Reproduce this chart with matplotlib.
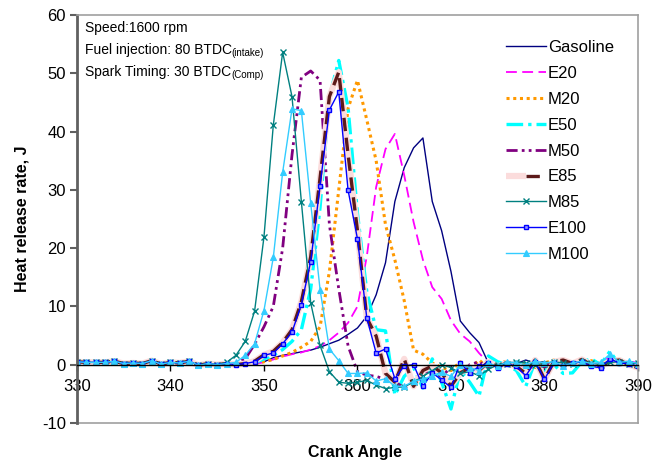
import numpy as np
import matplotlib
matplotlib.use("Agg")
import matplotlib.pyplot as plt
from matplotlib.legend_handler import HandlerTuple

plt.rcParams['font.family'] = ['Liberation Sans', 'DejaVu Sans']
plt.rcParams['axes.unicode_minus'] = False

# crank angle, one point per degree
angle = np.arange(330, 391)

# heat release rate (J), 330..390 deg
base = [0.5, 0.4, 0.4, 0.4, 0.6, 0.2, 0.3, 0.2, 0.7, 0.1, 0.4, 0.3, 0.6, -0.1, 0.2, 0.0]  # 330..345

gasoline = base + [0.2, 0.0, 0.0, 0.2, 0.5, 1.2, 1.6, 1.9, 2.2, 2.5, 3.0, 3.6, 4.2, 5.2, 6.3, 8.3,
                   12.0, 17.5, 28.0, 33.8, 37.2, 38.9, 28.0, 23.0, 16.0, 7.5, 5.5, 3.8, 0.3, -0.2,
                   0.5, 0.2, 0.8, 0.3, 0.5, 0.2, 0.6, 0.3, 0.8, 0.4, 0.2, 0.9, 0.3, 0.5, 0.2]
e20 = base + [0.2, 0.0, 0.0, 0.2, 0.4, 0.9, 1.4, 1.8, 2.1, 2.6, 3.2, 4.2, 5.5, 7.2, 10.0, 18.6,
              30.5, 37.0, 39.6, 32.5, 24.5, 18.0, 13.3, 11.3, 7.6, 5.3, 4.0, 2.0, 0.3, -0.5,
              0.6, 0.0, -0.8, 0.5, -0.3, 0.6, 0.2, 0.5, 0.9, 0.1, 0.5, 1.2, 0.4, 0.6, 0.3]
m20 = base + [0.2, 0.0, 0.1, 0.2, 0.5, 0.9, 1.5, 2.1, 3.0, 4.0, 6.5, 16.0, 30.0, 44.0, 48.8, 42.0,
              35.0, 24.0, 18.0, 11.0, 2.5, 1.8, 0.3, -0.5, -1.0, 0.5, -0.8, 0.8, -0.5, 0.2,
              0.6, -0.2, 0.4, -0.5, 0.3, 0.8, 0.0, 0.5, 0.2, 0.7, 0.1, 0.6, 0.4, 0.2, 0.3]
e50 = base + [0.2, 0.0, 0.1, 0.3, 1.0, 1.6, 2.6, 4.0, 6.0, 13.0, 27.0, 46.0, 52.2, 44.0, 26.0, 12.5,
              6.0, 5.8, -5.2, -2.0, -0.5, -4.0, 1.0, -3.0, -7.6, -1.0, -3.0, -5.4, 1.5, 0.5,
              0.0, -1.0, -3.7, 0.5, -1.0, 0.0, -1.5, -1.4, 0.5, 1.0, 0.0, 2.3, 0.0, 0.5, 0.0]
m50 = base + [0.2, 0.3, 1.0, 3.5, 6.5, 10.0, 20.0, 36.0, 49.3, 50.4, 48.8, 24.0, 13.0, 3.2, -1.2, -1.8,
              -2.0, -2.5, -3.0, -3.9, -3.5, -1.0, -1.5, -2.0, -0.5, -1.5, 0.0, 0.5, -0.5, 0.0,
              0.2, -0.5, -0.8, 0.3, -0.4, 0.3, 0.0, 0.4, 0.2, -0.3, 0.3, 0.5, 0.2, 0.3, 0.0]
e85 = base + [0.2, 0.0, 0.2, 0.6, 1.7, 2.3, 3.8, 6.0, 10.8, 18.5, 32.0, 46.0, 50.2, 36.0, 23.0, 8.0,
              4.9, -1.5, -3.0, 1.0, -3.7, -1.0, -0.2, -1.4, -3.7, -1.4, -0.5, -1.0, 0.5, -0.3,
              0.3, -0.3, -1.5, 0.8, -2.5, 0.5, 0.8, 0.2, 0.9, 0.0, -0.3, 0.6, 0.8, 0.0, -0.5]
m85 = base + [0.4, 1.6, 4.0, 9.2, 21.9, 41.1, 53.6, 46.0, 28.0, 10.6, 3.3, -1.2, -3.0, -3.2, -3.0, -2.7,
              -3.5, -4.1, -3.9, -3.8, -3.0, -2.0, -1.0, 0.0, -0.5, -1.5, -1.2, -1.9, -0.8, 0.0,
              0.2, 0.5, 0.3, 0.0, 0.2, 0.5, 0.3, 0.2, 0.5, 0.3, 0.0, 0.4, 0.5, 0.1, 0.3]
e100 = base + [0.2, 0.0, 0.2, 0.5, 1.6, 2.0, 3.6, 5.6, 10.3, 17.7, 30.7, 43.7, 46.8, 29.9, 21.6, 8.0,
               2.0, 2.7, -2.4, -0.2, 0.0, -3.7, -1.4, -2.6, -3.9, 0.3, -1.4, -0.3, 0.3, -0.5,
               0.2, -0.3, -1.9, 0.5, -2.5, 0.3, -0.2, 0.3, 0.5, -0.3, -0.5, 1.0, 0.3, 0.2, -0.3]
m100 = base + [0.2, 0.4, 1.6, 3.6, 9.3, 18.4, 33.0, 43.9, 43.6, 27.7, 12.9, 2.7, 0.7, -1.5, -1.5, -1.4,
               -2.8, -2.4, -3.7, -3.7, -2.8, -2.5, -1.9, -1.3, -2.0, 0.0, -0.5, -1.0, 0.3, -0.3,
               0.5, 0.3, 0.0, 0.6, 0.3, 0.5, -0.2, 0.3, 0.6, 0.2, 0.4, 1.8, 0.4, 0.6, 0.2]

fig = plt.figure(figsize=(6.52, 4.66), dpi=100)
ax = fig.add_axes([0.118, 0.0923, 0.8605, 0.8755])

l_gas, = ax.plot(angle, gasoline, color='#000080', lw=1.0)
l_e20, = ax.plot(angle, e20, color='#FF00FF', lw=1.3, ls=(0, (6, 3)))
l_m20, = ax.plot(angle, m20, color='#FF9900', lw=2.2, ls=(0, (1, 1.2)))
l_e50, = ax.plot(angle, e50, color='#00FFFF', lw=2.4, ls=(0, (5, 1.5, 1, 1.5)))
l_m50, = ax.plot(angle, m50, color='#800080', lw=2.0, ls=(0, (4, 1.5, 1, 1.5, 1, 1.5)))
l_e85a, = ax.plot(angle, e85, color='#FBDCDC', lw=4.5, solid_capstyle='butt')
l_e85b, = ax.plot(angle, e85, color='#5C1A1A', lw=2.4, ls=(0, (4, 2)))
l_m85, = ax.plot(angle, m85, color='#008080', lw=1.0, marker='x', ms=4, mew=1.0)
l_e100, = ax.plot(angle, e100, color='#0000FF', lw=1.0, marker='s', ms=3.5, mfc='#9999FF', mew=1.0)
l_m100, = ax.plot(angle, m100, color='#33CCFF', lw=1.0, marker='^', ms=4, mew=0.8)

ax.set_xlim(330, 390)
ax.set_ylim(-10, 60)
ax.set_xticks(np.arange(330, 391, 10))
ax.set_yticks(np.arange(-10, 61, 10))

# x axis crosses at zero
ax.spines['bottom'].set_position(('data', 0))
ax.spines['bottom'].set_color('black')
ax.spines['bottom'].set_linewidth(1.0)
ax.spines['left'].set_color('#606060')
ax.spines['left'].set_linewidth(2.0)
for s in ['top', 'right']:
    ax.spines[s].set_color('#A0A0A0')
    ax.spines[s].set_linewidth(1.2)
ax.axhline(-10, color='#A0A0A0', lw=1.2, clip_on=False)

ax.tick_params(axis='x', direction='out', length=4, width=1, pad=6, labelsize=12, colors='black')
ax.tick_params(axis='y', direction='out', length=5, width=1.5, pad=3, labelsize=12, color='#606060')

ax.set_xlabel('Crank Angle', fontsize=11.5, fontweight='bold')
ax.xaxis.set_label_coords(0.496, -0.054)
ax.set_ylabel('Heat release rate, J', fontsize=11.5, fontweight='bold', labelpad=9)

# run conditions
ax.text(0.014, 0.968, 'Speed:1600 rpm', transform=ax.transAxes, fontsize=10, va='center')
t1 = ax.text(0.014, 0.915, 'Fuel injection: 80 BTDC', transform=ax.transAxes, fontsize=10, va='center')
ax.annotate('(intake)', xy=(1, 0), xycoords=t1, xytext=(0, -1), textcoords='offset points',
            fontsize=7, va='bottom')
t2 = ax.text(0.014, 0.861, 'Spark Timing: 30 BTDC', transform=ax.transAxes, fontsize=10, va='center')
ax.annotate('(Comp)', xy=(1, 0), xycoords=t2, xytext=(0, -1), textcoords='offset points',
            fontsize=7, va='bottom')

handles = [l_gas, l_e20, l_m20, l_e50, l_m50, (l_e85a, l_e85b), l_m85, l_e100, l_m100]
labels = ['Gasoline', 'E20', 'M20', 'E50', 'M50', 'E85', 'M85', 'E100', 'M100']
ax.legend(handles, labels, loc='upper left', bbox_to_anchor=(0.765, 0.938), frameon=False,
          fontsize=12, handlelength=2.4, handletextpad=0.1, labelspacing=0.65,
          borderpad=0, borderaxespad=0, markerscale=1.0,
          handler_map={tuple: HandlerTuple(ndivide=None)})

fig.savefig('out.png', dpi=100)
